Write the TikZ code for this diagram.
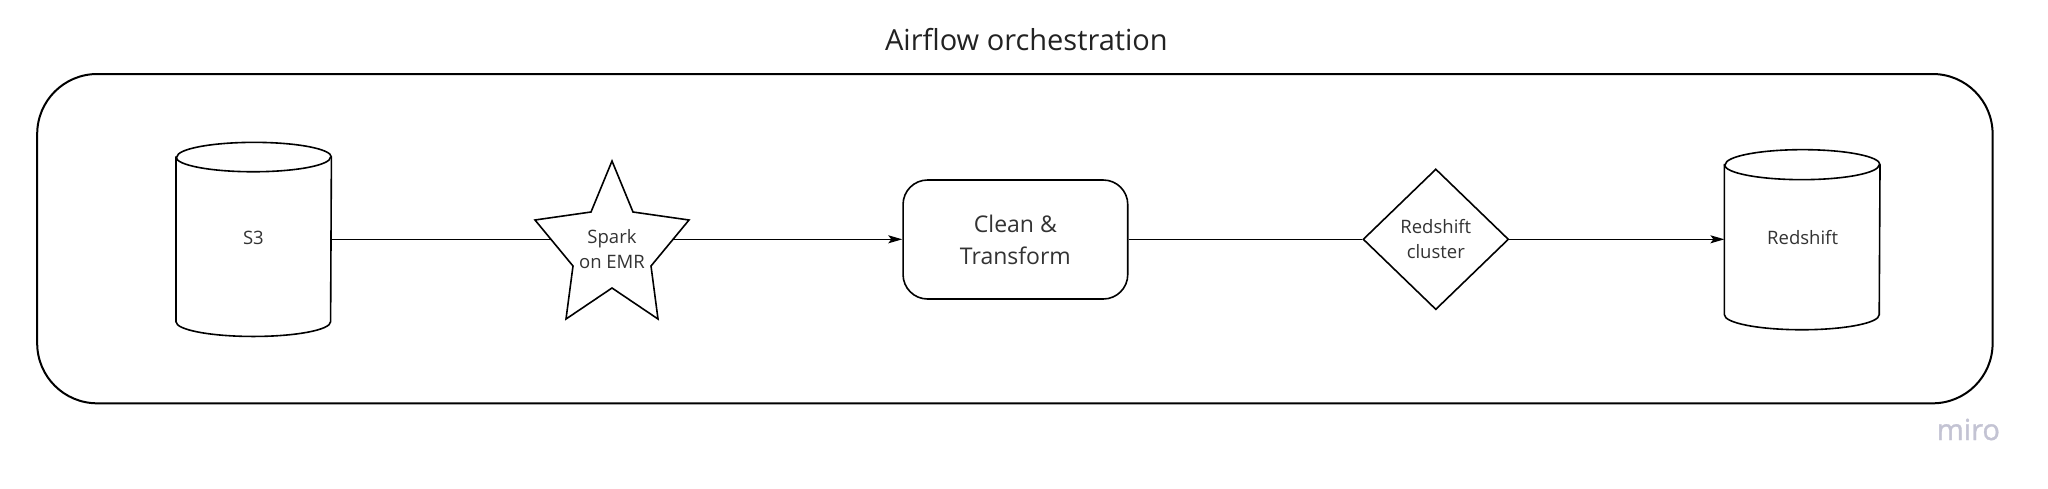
\documentclass[tikz,border=0pt]{standalone}
\usepackage{fontspec}
\setmainfont{Open Sans}
\newfontfamily\mirofont{Open Sans}[FakeBold=1.2]
\usetikzlibrary{shapes.geometric,arrows.meta}
\definecolor{txt}{HTML}{333333}
\definecolor{ttl}{HTML}{222222}
\definecolor{mirogray}{HTML}{C3C3D3}
\newcommand\drawcyl[3]{%
  \draw[shapeline,fill=white] ([yshift=-#3]#1.north west) -- ([yshift=#3]#1.south west)
    arc[start angle=180,end angle=360,x radius=#2,y radius=#3]
    -- ([yshift=-#3]#1.north east)
    arc[start angle=0,end angle=180,x radius=#2,y radius=#3] -- cycle;
  \draw[shapeline] ([yshift=-#3]#1.north west)
    arc[start angle=180,end angle=360,x radius=#2,y radius=#3];
}
\tikzset{
  shapeline/.style={draw=black,line width=0.8pt},
  conn/.style={draw=black,line width=0.65pt},
  arr/.style={-{Stealth[length=7pt,width=4pt,inset=1.5pt]}},
  lbl/.style={text=txt,font=\fontsize{9.25}{12.5}\selectfont,align=center,inner sep=0pt},
  cylbox/.style={rectangle,inner sep=0pt},
}
\begin{document}
\begin{tikzpicture}[x=0.5pt,y=-0.5pt]
\useasboundingbox[fill=white] (0,0) rectangle (2048,488);

% title
\node[anchor=base,text=ttl,font=\fontsize{14.5}{17}\selectfont,inner sep=0pt] (title) at (1026.4,50) {Airflow orchestration};

% outer frame
\node[draw=black,line width=1pt,rounded corners=30pt,minimum width=977.7pt,minimum height=164.65pt,inner sep=0pt] (frame) at (1014.9,238.65) {};

% S3 cylinder
\node[cylbox,minimum width=77.3pt,minimum height=96.65pt] (s3) at (253.7,239.4) {};
\drawcyl{s3}{38.65pt}{7.35pt}
\node[lbl] (s3t) at (253.4,238) {S3};

% Redshift cylinder
\node[cylbox,minimum width=77.4pt,minimum height=89.65pt] (redshift) at (1802.2,239.7) {};
\drawcyl{redshift}{38.7pt}{7.5pt}
\node[lbl] (redshiftt) at (1802.6,238) {Redshift};

% star (Spark on EMR)
\draw[shapeline,fill=white,line join=miter] (612,161) -- (591,212) -- (535,220) -- (573,266) -- (566,319)
  -- (612,288) -- (658,319) -- (651,266) -- (689,220) -- (633,212) -- cycle;
\node[lbl,font=\fontsize{9.25}{12.5}\selectfont] (spark) at (612,249) {Spark\\on EMR};
\coordinate (sparkL) at (551,239.3);
\coordinate (sparkR) at (673,239.3);

% Clean & Transform
\node[shapeline,rounded corners=12.25pt,minimum width=112.35pt,minimum height=59.5pt,inner sep=0pt,
  text=txt,font=\fontsize{11.5}{16}\selectfont,align=center] (clean) at (1015.4,239.5) {Clean \&\\Transform};

% Redshift cluster diamond
\node[shapeline,diamond,minimum width=72.8pt,minimum height=70.35pt,inner sep=0pt,
  text=txt,font=\fontsize{9.25}{12.3}\selectfont,align=center] (cluster) at (1435.8,239.3) {Redshift\\cluster};

% connectors
\draw[conn] (s3.east |- sparkL) -- (sparkL);
\draw[conn,arr] (sparkR) -- (clean.west |- sparkR);
\draw[conn] (clean.east |- cluster.west) -- (cluster.west);
\draw[conn,arr] (cluster.east) -- (redshift.west |- cluster.east);

% watermark
\node[anchor=base,text=mirogray,font=\mirofont\fontsize{14.5}{16}\selectfont,inner sep=0pt] (miro) at (1968.4,440) {miro};
\end{tikzpicture}
\end{document}
